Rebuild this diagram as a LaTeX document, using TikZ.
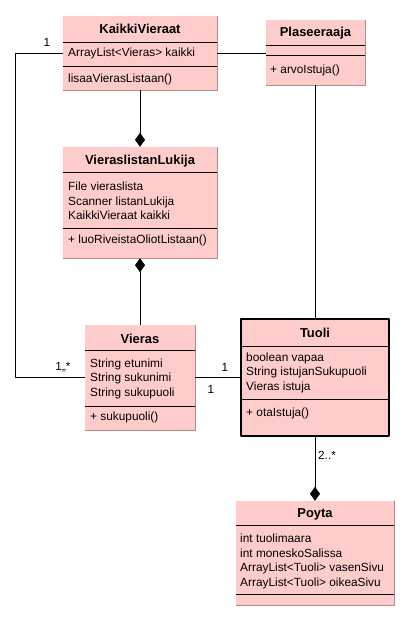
\documentclass[tikz,border=0pt]{standalone}
\usepackage{fontspec}
\setmainfont{Liberation Sans}
\usetikzlibrary{arrows.meta}
\definecolor{umlfill}{RGB}{255,204,204}
\definecolor{umlshade}{RGB}{176,140,140}
\begin{document}
\begin{tikzpicture}[x=1bp,y=-1bp, line join=round,
    umlbox/.style={fill=umlfill, inner sep=0pt},
    title/.style={font=\fontsize{13}{14}\selectfont\bfseries, inner sep=0pt},
    attr/.style={font=\fontsize{11.9}{14.5}\selectfont, align=left, anchor=west, inner sep=0pt},
    mult/.style={font=\fontsize{11.8}{14}\selectfont, inner sep=0pt},
    sep/.style={line width=0.9bp},
    conn/.style={line width=0.9bp},
    comp/.style={conn, -{Diamond[length=14bp,width=10bp]}}]
    \useasboundingbox (0,0) rectangle (410,621);
    % luokat
    \node[umlbox, minimum width=154bp, minimum height=74bp] (kaikki) at (140,53) {};
    \node[umlbox, minimum width=99bp, minimum height=65bp] (plas) at (315.5,52.5) {};
    \node[umlbox, minimum width=154bp, minimum height=111bp] (lukija) at (140,202.5) {};
    \node[umlbox, minimum width=110bp, minimum height=105bp] (vieras) at (140,377.5) {};
    \node[umlbox, draw=black, line width=1.4bp, minimum width=148bp, minimum height=117bp] (tuoli) at (315,377.5) {};
    \node[umlbox, minimum width=158bp, minimum height=104bp] (poyta) at (315,553) {};
    \foreach \b in {kaikki,plas,lukija,vieras,poyta}
        \draw[umlshade, line width=1bp] (\b.north east) -- (\b.south east) -- (\b.south west);
    \foreach \b/\y in {kaikki/42,kaikki/66,plas/45,plas/55,lukija/172,lukija/228,
                       vieras/350,vieras/406,tuoli/346,tuoli/399,poyta/525,poyta/594}
        \draw[sep] (\b.west |- 0,\y) -- (\b.east |- 0,\y);
    % tekstit
    \node[title] (kaikkiT) at (140,29) {KaikkiVieraat};
    \node[attr] (kaikkiA) at (68,53) {ArrayList<Vieras> kaikki};
    \node[attr] (kaikkiM) at (68,79) {lisaaVierasListaan()};
    \node[title] (plasT) at (315.5,33) {Plaseeraaja};
    \node[attr] (plasM) at (270,70) {+ arvoIstuja()};
    \node[title] (lukijaT) at (140,161) {VieraslistanLukija};
    \node[attr] (lukijaA) at (68,201) {File vieraslista\\Scanner listanLukija\\KaikkiVieraat kaikki};
    \node[attr] (lukijaM) at (68,240) {+ luoRiveistaOliotListaan()};
    \node[title] (vierasT) at (140,339) {Vieras};
    \node[attr] (vierasA) at (90,378.5) {String etunimi\\String sukunimi\\String sukupuoli};
    \node[attr] (vierasM) at (90,417) {+ sukupuoli()};
    \node[title] (tuoliT) at (315,333) {Tuoli};
    \node[attr] (tuoliA) at (246,372.5) {boolean vapaa\\String istujanSukupuoli\\Vieras istuja};
    \node[attr] (tuoliM) at (246,413) {+ otaIstuja()};
    \node[title] (poytaT) at (315,514) {Poyta};
    \node[attr] (poytaA) at (240,561.5) {int tuolimaara\\int moneskoSalissa\\ArrayList<Tuoli> vasenSivu\\ArrayList<Tuoli> oikeaSivu};
    % yhteydet
    \draw[conn] (kaikki.east) -- (kaikki.east -| plas.west);
    \draw[conn] (kaikki.west) -- ++(-47,0) |- (vieras.west);
    \draw[comp] (kaikki.south) -- (lukija.north);
    \draw[comp] (vieras.north) -- (lukija.south);
    \draw[conn] (vieras.east) -- (tuoli.west);
    \draw[conn] (plas.south) -- (plas.south |- tuoli.north);
    \draw[comp] (tuoli.south) -- (poyta.north);
    \node[mult] (m1) at (47,42) {1};
    \node[mult] (m2) at (63,367) {1,,*};
    \node[mult] (m3) at (225,367) {1};
    \node[mult] (m4) at (211,389) {1};
    \node[mult, anchor=west] (m5) at (318,455) {2..*};
\end{tikzpicture}
\end{document}
